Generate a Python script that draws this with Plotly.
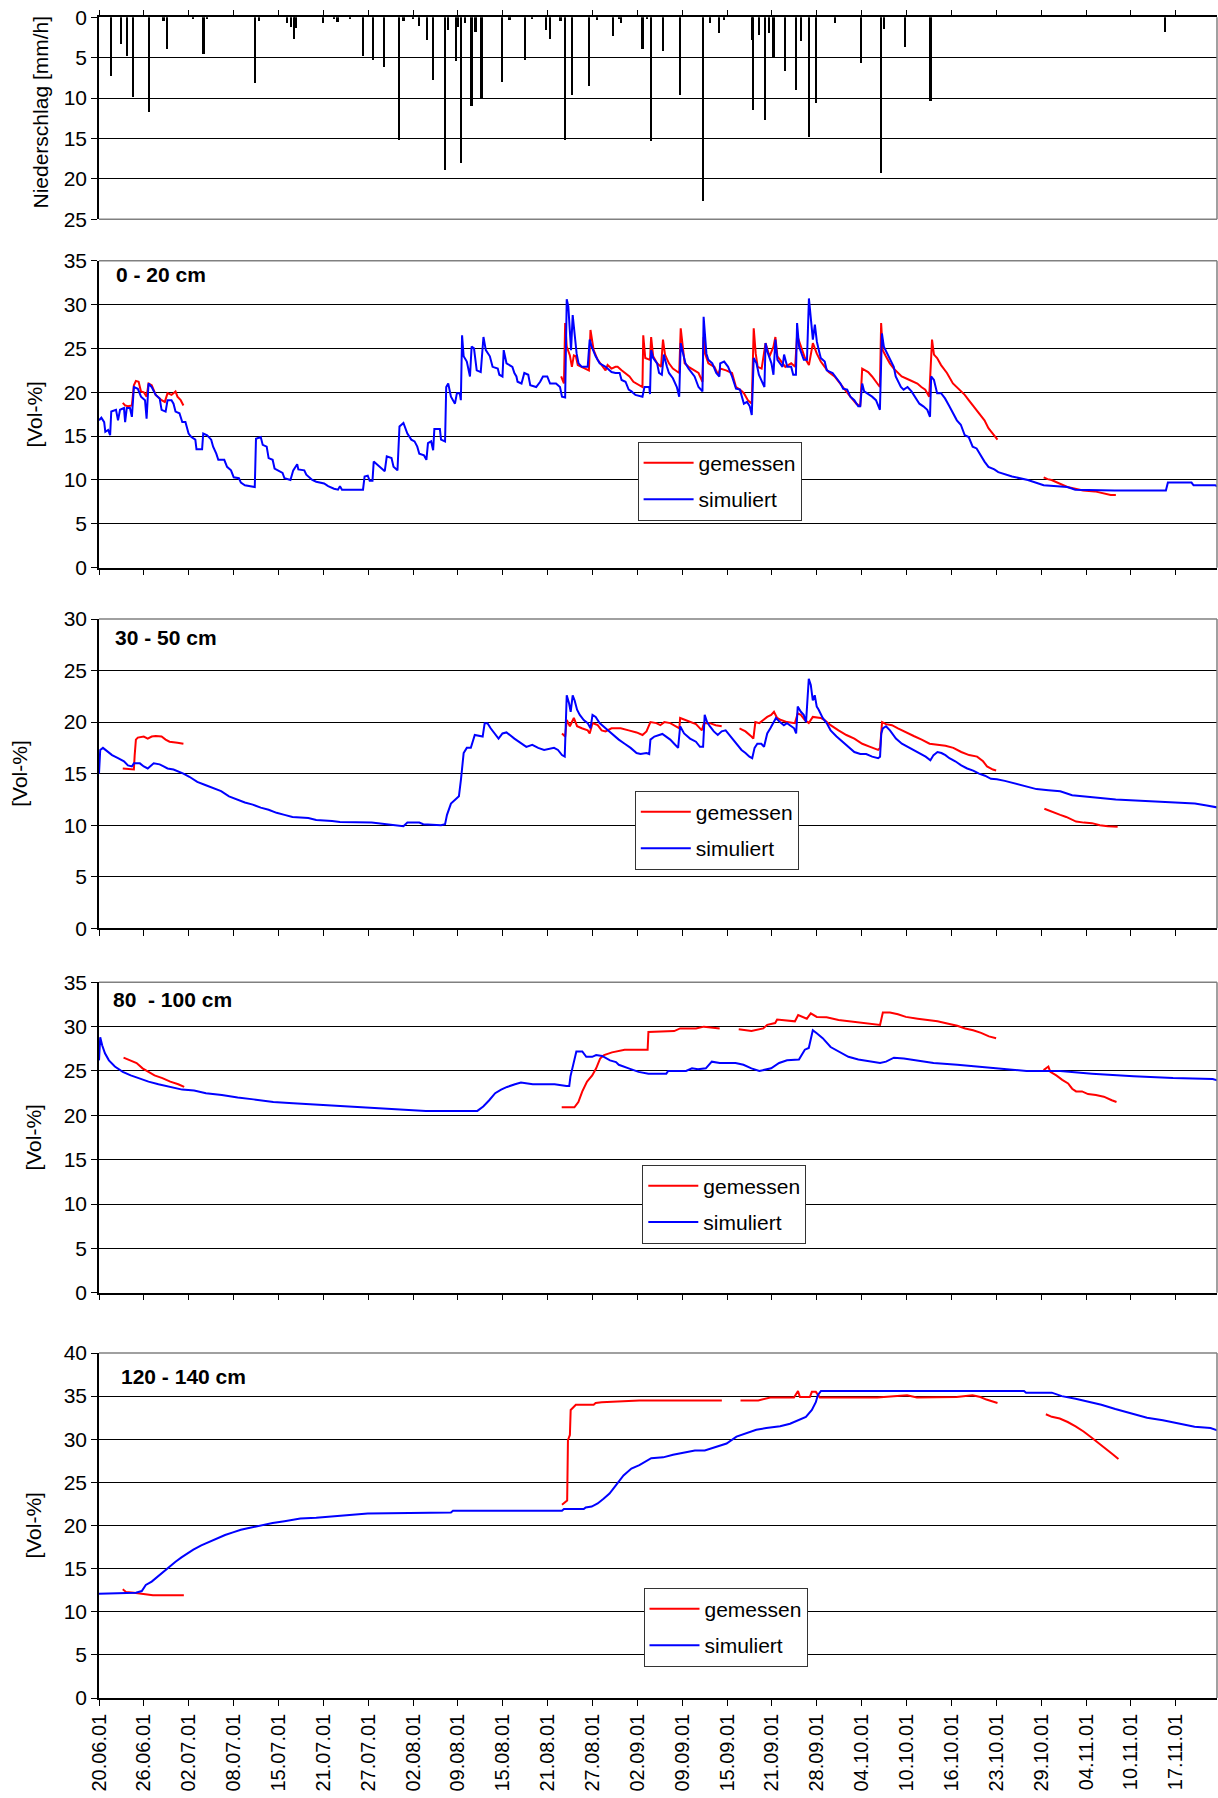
import pandas as pd
import plotly.graph_objects as go

START = pd.Timestamp("2001-06-20")

# ---------------- data (day offset from 20.06.01 00:00, values) ----------------
RAIN_DAY = [1.65, 3.03, 3.86, 4.74, 7.00, 8.98, 9.53, 13.11, 14.55, 15.04, 21.76, 22.32,
            26.17, 26.72, 27.11, 27.38, 31.24, 32.78, 33.23, 34.99, 36.81, 38.18, 39.67,
            41.77, 42.43, 43.80, 44.63, 45.73, 46.56, 48.21, 48.60, 49.70, 50.03, 50.42,
            50.97, 51.90, 52.46, 53.28, 56.09, 57.19, 59.40, 60.33, 62.26, 62.81, 64.30,
            64.91, 65.84, 68.32, 69.43, 71.63, 72.46, 72.69, 75.71, 76.37, 76.92, 78.57,
            80.93, 84.18, 85.06, 86.37, 87.09, 90.94, 91.10, 91.92, 92.75, 93.30, 93.96,
            95.61, 97.09, 97.80, 98.90, 99.84, 102.58, 106.21, 108.96, 109.34, 112.26,
            115.83, 148.52]
RAIN_MMH = [7.3, 3.3, 4.8, 9.9, 11.8, 0.5, 4.0, 0.25, 4.6, 0.3, 8.2, 0.5,
            0.8, 1.2, 2.7, 1.4, 0.7, 0.3, 0.6, 0.3, 4.8, 5.3, 6.2,
            15.2, 0.5, 0.3, 1.1, 2.8, 7.8, 18.9, 1.6, 5.5, 1.2, 18.1,
            0.7, 11.0, 1.8, 10.2, 8.0, 0.4, 5.3, 0.25, 1.6, 2.7, 0.5,
            15.2, 9.7, 8.5, 0.4, 2.3, 0.3, 0.7, 4.0, 0.3, 15.4, 4.25,
            9.7, 22.8, 0.7, 2.0, 0.4, 2.8, 11.5, 2.2, 12.7, 2.0, 5.0,
            6.7, 9.0, 3.0, 14.9, 10.7, 0.8, 5.7, 19.3, 1.5, 3.75,
            10.4, 1.8]

# 0 - 20 cm
SIM_A_DAY = [0.0, 0.33, 0.72, 0.88, 1.27, 1.55, 1.71, 2.37, 2.65, 2.93, 3.48, 3.64, 3.87, 4.31,
             4.58, 4.86, 5.41, 5.85, 6.41, 6.63, 6.90, 7.34, 7.90, 8.45, 8.72, 9.28, 9.55,
             10.10, 10.38, 10.66, 11.21, 11.60, 12.04, 12.48, 12.87, 13.42, 13.58, 14.36,
             14.52, 15.07, 15.63, 15.90, 16.34, 16.62, 17.45, 17.84, 18.39, 18.77, 19.49,
             19.77, 20.32, 21.42, 21.70, 21.87, 22.53, 22.81, 23.36, 23.63, 24.19, 24.46,
             25.57, 25.84, 26.67, 27.06, 27.61, 27.77, 28.60, 28.88, 29.71, 30.26, 31.36,
             31.92, 32.74, 33.30, 33.57, 33.85, 36.78, 37.00, 37.44, 37.71, 38.10, 38.27,
             39.10, 39.81, 40.09, 40.75, 41.03, 41.58, 41.86, 42.41, 42.96, 43.51, 43.96,
             44.34, 44.62, 45.28, 45.61, 45.83, 46.27, 46.55, 46.72, 47.49, 47.65, 48.21,
             48.37, 48.65, 49.03, 49.59, 49.86, 50.25, 50.41, 50.58, 50.80, 51.24, 51.68,
             51.91, 52.24, 52.62, 53.18, 53.56, 53.89, 54.45, 54.83, 55.55, 55.77, 56.21,
             56.38, 56.77, 57.59, 57.87, 58.15, 58.31, 58.86, 59.25, 59.80, 60.08, 60.91,
             61.46, 61.85, 62.45, 62.84, 63.67, 64.22, 64.50, 64.94, 65.16, 65.38, 65.60,
             65.76, 65.99, 66.26, 66.54, 66.81, 67.26, 68.08, 68.36, 68.64, 69.19, 69.74,
             70.57, 71.40, 71.95, 72.53, 72.80, 73.35, 73.79, 74.18, 74.73, 75.71, 75.99,
             76.65, 76.76, 76.92, 77.20, 77.75, 78.02, 78.41, 78.68, 79.12, 79.40, 79.95,
             80.50, 80.83, 81.04, 81.32, 81.70, 82.14, 82.97, 83.52, 84.07, 84.23, 84.45,
             84.62, 84.89, 85.44, 85.99, 86.43, 86.54, 87.09, 87.64, 88.19, 88.74, 89.29,
             89.84, 90.28, 90.66, 90.94, 91.21, 91.60, 91.93, 92.70, 92.86, 93.13, 93.68,
             93.96, 94.23, 94.51, 95.22, 95.44, 95.88, 96.43, 96.71, 97.09, 97.25, 97.53,
             98.19, 98.63, 98.90, 99.18, 99.45, 99.73, 100.00, 100.28, 100.55, 101.10,
             101.38, 102.20, 102.75, 103.30, 103.68, 104.23, 104.67, 105.22, 105.77, 106.05,
             106.32, 106.60, 107.70, 108.24, 108.79, 109.07, 109.34, 110.17, 110.72, 110.99,
             111.71, 112.09, 112.64, 113.19, 114.29, 114.84, 115.39, 115.77, 115.93, 116.32,
             116.76, 117.31, 117.86, 118.41, 118.96, 119.51, 120.06, 120.61, 121.16, 121.71,
             122.26, 122.81, 123.36, 123.91, 124.73, 125.28, 127.20, 129.40, 131.60, 134.90,
             136.00, 141.49, 148.63, 148.91, 152.20, 152.48, 155.50, 156.05]
SIM_A = [16.8, 17.1, 16.6, 15.5, 15.7, 15.1, 17.8, 18.0, 16.8, 18.0, 18.2, 16.6, 18.2, 18.2,
         17.2, 20.6, 20.4, 19.5, 19.1, 17.0, 21.0, 20.6, 19.7, 19.3, 18.0, 17.8, 19.1,
         19.1, 18.7, 17.8, 17.6, 16.6, 16.6, 15.3, 14.9, 14.6, 13.5, 13.5,
         15.3, 15.1, 14.6, 13.8, 13.0, 12.3, 12.3, 11.5, 11.1, 10.3, 10.2,
         9.7, 9.4, 9.2, 9.2, 14.7, 14.9, 14.0, 13.8, 12.5, 12.3, 11.3,
         10.8, 10.2, 10.0, 11.1, 11.8, 11.2, 11.1, 10.6, 10.0, 9.8, 9.6,
         9.3, 9.0, 8.9, 9.3, 8.9, 8.9, 10.4, 10.5, 9.9, 9.9, 12.1,
         11.5, 11.0, 12.7, 12.5, 11.5, 11.1, 16.1, 16.5, 15.3, 14.6, 14.4,
         13.8, 13.0, 12.8, 12.3, 14.2, 14.4, 13.4, 15.8, 15.8, 14.6, 14.4,
         20.6, 21.0, 19.5, 18.7, 19.9, 19.9, 19.1, 26.5, 24.1, 23.5, 21.8,
         25.2, 25.0, 22.5, 22.3, 26.3, 24.8, 24.1, 22.9, 22.7, 22.0, 21.8,
         24.8, 23.3, 22.9, 22.2, 21.8, 21.2, 21.0, 22.2, 22.0, 20.8, 20.6,
         21.2, 21.8, 21.8, 21.0, 21.0, 20.6, 19.5, 19.4, 30.6, 29.8, 26.0,
         24.8, 28.8, 26.3, 24.4, 23.3, 22.9, 22.9, 26.0, 25.2, 24.1, 23.3,
         22.9, 22.3, 22.2, 22.2, 21.4, 21.2, 20.3, 20.1, 19.7, 19.5, 20.6,
         20.6, 19.8, 24.8, 23.9, 23.3, 22.2, 22.0, 24.3, 22.9, 22.2, 21.6,
         20.6, 19.5, 25.6, 24.6, 23.3, 22.7, 21.8, 20.6, 20.1, 28.6, 26.3,
         24.4, 23.7, 23.3, 22.2, 21.8, 23.3, 23.5, 22.9, 21.8, 20.4, 20.3,
         18.7, 18.9, 18.4, 17.4, 23.9, 23.3, 22.0, 20.6, 25.6, 24.6, 23.3,
         22.0, 26.0, 23.7, 22.9, 24.3, 22.9, 22.9, 22.0, 22.0, 27.9, 25.2,
         23.7, 23.7, 30.7, 28.2, 26.0, 27.7, 25.8, 24.8, 23.9, 23.5,
         22.5, 22.2, 21.6, 21.0, 20.4, 20.3, 19.5, 19.1, 18.4, 18.4,
         21.0, 20.1, 19.5, 19.1, 18.0, 26.7, 25.2, 23.7, 22.9, 21.8,
         20.6, 20.3, 20.6, 20.1, 18.7, 18.4, 18.0, 17.2, 21.8, 21.4,
         19.9, 19.9, 19.3, 18.5, 17.6, 16.8, 16.3, 15.1, 14.9, 13.8,
         13.6, 12.8, 12.1, 11.5, 11.2, 10.9, 10.4, 10.0, 9.4, 9.2,
         8.9, 8.8, 8.8, 9.7, 9.7, 9.4, 9.4, 9.2]
MEAS_A_DAY = [3.31, 3.64, 4.03, 4.58, 4.86, 5.14, 5.52, 5.85, 6.24, 6.63, 6.90, 7.34, 7.90,
              8.72, 9.17, 9.55, 10.10, 10.66, 10.93, 11.38, 11.76, None,
              64.38, 64.77, 64.94, 65.16, 65.60, 65.88, 66.15, 66.43, 66.70, 67.81, 68.25,
              68.47, 68.64, 68.91, 69.47, 70.02, 70.57, 70.85, 71.40, 71.95, 72.25, 72.80,
              73.35, 73.90, 74.45, 75.27, 75.71, 75.82, 76.10, 76.76, 76.92, 77.20, 77.75,
              78.30, 78.57, 78.85, 79.40, 79.95, 80.83, 81.04, 81.32, 81.59, 82.14, 82.97,
              83.52, 84.07, 84.23, 84.45, 84.89, 85.72, 86.26, 86.54, 87.36, 88.19, 88.74,
              89.29, 89.84, 90.39, 90.94, 91.21, 91.49, 91.76, 92.31, 92.86, 93.41, 93.96,
              94.23, 94.51, 95.06, 95.61, 96.43, 96.98, 97.25, 97.80, 98.35, 98.90, 99.45,
              100.00, 100.55, 101.10, 101.65, 102.47, 103.02, 103.85, 104.67, 105.50,
              106.05, 106.32, 107.15, 107.70, 108.24, 108.79, 108.96, 109.18, 109.62,
              110.17, 110.72, 111.27, 111.82, 112.92, 114.01, 114.56, 115.11, 115.66,
              116.05, 116.32, 116.76, 117.31, 118.13, 118.96, 119.51, 120.06, 120.61,
              121.16, 121.71, 122.26, 122.81, 123.36, 123.91, 124.46, 125.17, None,
              131.60, 132.15, 132.70, 133.80, 134.90, 136.00, 137.09, 138.74, 139.84,
              140.94, 141.66]
MEAS_A = [18.8, 18.5, 18.4, 18.5, 20.8, 21.3, 21.2, 20.1, 20.0, 19.5, 21.0, 20.8, 19.7,
          19.1, 18.9, 19.9, 19.7, 20.1, 19.5, 19.1, 18.5, None,
          21.8, 21.0, 27.9, 25.2, 24.2, 22.9, 24.2, 24.1, 23.1, 22.7, 22.5,
          27.1, 26.3, 24.8, 23.7, 23.1, 22.5, 23.1, 22.7, 22.9, 22.9, 22.5,
          22.2, 21.8, 21.2, 20.8, 20.6, 26.5, 23.9, 23.7, 26.3, 24.1, 23.3,
          22.9, 26.0, 24.3, 23.3, 22.7, 22.2, 27.3, 24.8, 23.3, 22.9, 22.5,
          22.2, 21.2, 26.3, 24.4, 23.3, 22.9, 22.0, 22.7, 22.5, 22.2, 20.6,
          20.3, 19.9, 19.1, 18.7, 27.3, 24.4, 22.9, 22.7, 25.6, 24.1, 25.2,
          26.3, 24.1, 23.5, 22.9, 23.3, 22.9, 26.5, 25.2, 23.9, 23.1, 25.6,
          24.4, 23.5, 22.9, 22.3, 21.8, 21.2, 20.3, 19.5, 18.7,
          18.4, 22.7, 22.3, 21.8, 21.2, 20.6, 27.9, 24.8, 24.1,
          23.3, 22.7, 22.3, 21.8, 21.4, 21.0, 20.6, 20.3, 19.5,
          26.0, 24.3, 23.9, 23.1, 22.2, 21.0, 20.6, 20.1, 19.7,
          19.1, 18.5, 18.0, 17.4, 16.8, 15.9, 15.3, 14.6, None,
          10.3, 10.1, 10.0, 9.6, 9.2, 9.0, 8.8, 8.7, 8.5,
          8.3, 8.3]

# 30 - 50 cm
SIM_B_DAY = [0.0, 0.17, 0.55, 1.82, 2.65, 3.48, 4.03, 4.58, 4.86, 5.69, 6.24, 6.79, 7.62,
             8.45, 9.00, 9.55, 10.38, 11.21, 11.76, 12.59, 13.69, 14.80, 15.90, 17.01,
             18.11, 19.22, 20.32, 21.42, 22.53, 23.63, 24.74, 25.84, 26.95, 29.16, 30.26,
             32.47, 33.57, 37.99, 40.20, 41.30, 42.41, 42.96, 44.62, 45.17, 47.65, 48.21,
             48.48, 49.03, 50.14, 50.42, 50.80, 51.24, 51.80, 52.35, 53.45, 53.73, 54.12,
             54.56, 55.66, 56.21, 56.77, 57.87, 58.70, 59.53, 60.36, 61.18, 62.01, 63.39,
             63.94, 64.50, 64.88, 65.16, 65.49, 65.71, 65.99, 66.26, 66.60, 66.98, 67.53,
             68.08, 68.47, 68.75, 69.19, 69.74, 70.57, 71.40, 71.95, 72.41, 73.23, 74.06,
             74.89, 75.44, 76.27, 76.65, 76.82, 77.37, 78.48, 79.58, 80.13, 80.68, 80.96,
             81.51, 82.34, 83.16, 83.72, 84.16, 84.38, 84.71, 85.09, 85.65, 86.20, 86.75,
             87.30, 87.85, 88.40, 88.96, 89.51, 90.06, 90.61, 91.00, 91.33, 91.71, 92.27,
             92.65, 93.09, 93.53, 93.92, 94.31, 94.86, 95.41, 95.85, 96.84, 97.12, 97.34,
             97.78, 98.17, 98.50, 98.88, 99.16, 99.44, 99.71, 99.99, 100.26, 100.82,
             101.37, 101.92, 102.75, 103.57, 104.40, 105.23, 106.06, 106.88, 107.71,
             108.54, 108.81, 108.98, 109.20, 109.64, 110.19, 111.02, 111.85, 112.67,
             113.50, 114.33, 115.16, 115.82, 116.26, 116.81, 117.36, 117.92, 118.47,
             119.29, 120.12, 120.95, 121.78, 122.60, 123.43, 124.26, 125.09, 126.19,
             127.29, 128.40, 129.50, 130.60, 132.26, 133.91, 135.57, 137.22, 139.43,
             141.64, 144.39, 147.15, 149.91, 152.67, 154.32, 155.98]
SIM_B = [15.0, 17.3, 17.5, 16.8, 16.5, 16.2, 15.8, 15.7, 16.0, 16.0, 15.7, 15.5, 16.0,
         15.9, 15.7, 15.5, 15.4, 15.2, 15.0, 14.7, 14.2, 13.9, 13.6, 13.3,
         12.8, 12.5, 12.2, 12.0, 11.7, 11.5, 11.2, 11.0, 10.8, 10.7, 10.5,
         10.4, 10.3, 10.25, 10.1, 10.0, 9.9, 10.25, 10.25, 10.1, 10.0, 10.1,
         11.0, 12.1, 12.8, 14.4, 17.0, 17.5, 17.5, 18.75, 18.6, 19.9, 19.9,
         19.4, 18.4, 18.9, 19.0, 18.4, 18.0, 17.6, 17.8, 17.5, 17.3, 17.5,
         17.3, 16.8, 16.65, 22.6, 21.8, 21.0, 22.6, 22.1, 21.2, 20.7, 20.2,
         19.9, 19.4, 20.7, 20.5, 19.9, 19.4, 18.9, 18.6, 18.3, 17.9, 17.5,
         17.0, 16.9, 17.0, 16.9, 18.3, 18.6, 18.85, 18.3, 17.9, 17.5, 19.6,
         18.9, 18.4, 18.1, 17.6, 17.6, 20.7, 20.0, 19.6, 19.1, 18.75, 19.1,
         19.2, 18.75, 18.3, 17.8, 17.3, 17.0, 16.65, 16.5, 17.5, 17.9, 17.9,
         17.6, 18.9, 19.4, 19.9, 20.4, 20.0, 19.7, 19.9, 19.4, 18.9, 21.5,
         21.0, 20.7, 20.0, 24.2, 23.6, 22.1, 22.6, 21.5, 21.2, 20.4,
         19.9, 19.2, 18.6, 18.1, 17.6, 17.1, 16.9, 16.9, 16.65,
         16.5, 16.65, 18.9, 19.4, 19.6, 19.2, 18.4, 17.9, 17.6,
         17.3, 17.0, 16.65, 16.3, 16.8, 17.1, 17.0, 16.8, 16.5,
         16.2, 15.8, 15.5, 15.3, 15.0, 14.8, 14.5, 14.45, 14.3,
         14.1, 13.9, 13.7, 13.5, 13.4, 13.3, 12.9, 12.8, 12.6,
         12.5, 12.4, 12.3, 12.2, 12.1, 11.9, 11.7]
MEAS_B_DAY = [3.31, 4.86, 4.97, 5.14, 5.41, 6.24, 6.79, 7.34, 7.90, 8.72, 9.28, 9.83, 10.93,
              11.76, None,
              64.50, 64.94, 65.16, 65.60, 66.15, 66.60, 67.26, 68.08, 68.36, 68.75, 69.47,
              70.02, 70.57, 71.40, 71.95, 72.68, 73.79, 74.89, 75.72, 76.27, 76.82, 77.65,
              78.20, 78.75, 79.58, 80.41, 80.85, 80.96, 81.62, 82.34, 83.16, 83.99, 84.27,
              85.09, 85.92, 86.75, None,
              89.23, 90.06, 90.89, 91.16, 91.44, 91.99, 92.54, 93.09, 93.64, 94.03, 94.47,
              95.02, 95.85, 96.95, 97.34, 97.78, 98.33, 98.88, 99.44, 100.54, 101.09,
              101.92, 103.02, 104.12, 105.23, 106.33, 107.43, 108.54, 108.81, 109.09,
              109.64, 110.47, 111.30, 112.40, 113.50, 114.61, 115.71, 116.81, 117.92,
              119.02, 120.12, 121.22, 122.33, 123.16, 123.71, 124.53, 124.98, None,
              131.70, 133.08, 133.91, 134.74, 136.12, 137.22, 138.33, 139.43, 140.53,
              141.91]
MEAS_B = [15.5, 15.4, 16.8, 18.3, 18.5, 18.6, 18.4, 18.6, 18.65, 18.6, 18.3, 18.1, 18.0,
          17.9, None,
          18.9, 18.6, 20.2, 19.6, 20.4, 19.6, 19.4, 19.2, 18.9, 19.9, 19.7,
          19.2, 19.1, 19.4, 19.4, 19.4, 19.2, 19.0, 18.75, 19.1, 20.0, 19.9,
          19.7, 20.0, 19.9, 19.6, 19.4, 20.4, 20.2, 20.0, 19.8, 19.2, 19.9,
          19.9, 19.7, 19.6, None,
          19.4, 19.1, 18.6, 18.4, 20.0, 19.9, 20.2, 20.5, 20.7, 21.0, 20.4,
          20.2, 20.0, 19.9, 20.85, 20.7, 20.2, 19.9, 20.5, 20.4, 20.2,
          19.7, 19.2, 18.75, 18.4, 17.9, 17.6, 17.3, 17.5, 20.0,
          19.8, 19.7, 19.4, 19.0, 18.65, 18.3, 17.9, 17.8, 17.7,
          17.5, 17.1, 16.8, 16.65, 16.2, 15.7, 15.4, 15.3, None,
          11.6, 11.2, 11.0, 10.8, 10.35, 10.25, 10.2, 10.0, 9.9,
          9.85]

# 80 - 100 cm
SIM_C_DAY = [0.0, 0.17, 0.44, 0.83, 1.38, 2.21, 3.31, 4.42, 5.52, 6.90, 8.28, 9.93, 11.59,
             13.25, 14.90, 17.11, 19.32, 21.52, 24.28, 27.04, 30.35, 34.22, 39.18, 45.53,
             52.71, 53.53, 54.36, 55.19, 56.02, 56.85, 57.95, 58.78, 60.43, 63.47, 65.12,
             65.51, 65.68, 66.12, 66.50, 67.33, 67.88, 68.71, 69.26, 70.09, 71.19, 72.02,
             72.41, 73.79, 75.17, 76.54, 79.03, 79.30, 81.78, 82.61, 83.44, 84.54, 85.37,
             86.47, 88.68, 89.78, 90.89, 91.99, 93.64, 94.75, 95.85, 97.51, 98.33, 98.88,
             99.44, 99.99, 100.82, 101.92, 103.02, 104.40, 105.78, 107.43, 108.81, 109.64,
             110.74, 112.12, 114.05, 116.26, 119.57, 122.33, 125.64, 129.22, 133.91,
             138.33, 144.12, 149.63, 155.15, 155.98]
SIM_C = [26.2, 28.8, 27.9, 27.0, 26.2, 25.5, 24.9, 24.5, 24.2, 23.8, 23.5, 23.2, 22.9,
         22.8, 22.5, 22.3, 22.0, 21.8, 21.5, 21.35, 21.2, 21.0, 20.8, 20.5,
         20.5, 21.0, 21.7, 22.5, 22.9, 23.2, 23.5, 23.7, 23.5, 23.5, 23.3,
         23.3, 24.4, 25.9, 27.2, 27.2, 26.6, 26.6, 26.8, 26.7, 26.2, 26.0,
         25.7, 25.3, 24.9, 24.7, 24.7, 25.0, 25.0, 25.3, 25.2, 25.3, 26.05,
         25.9, 25.9, 25.7, 25.3, 25.0, 25.3, 25.9, 26.2, 26.3, 27.4, 27.6,
         29.6, 29.25, 28.7, 27.7, 27.2, 26.6, 26.3, 26.05, 25.9, 26.05,
         26.5, 26.4, 26.2, 25.9, 25.7, 25.5, 25.3, 25.0, 25.0,
         24.7, 24.4, 24.2, 24.1, 23.9]
MEAS_C_DAY = [3.42, 4.42, 5.24, 6.07, 6.90, 7.73, 8.83, 9.93, 11.04, 11.87, None,
              64.46, 66.23, 66.78, 67.33, 67.99, 68.71, 69.26, 69.81, 70.36, 71.47, 73.23,
              76.43, 76.54, 80.13, 80.96, 83.16, 84.27, 86.47, None,
              89.12, 90.89, 92.54, 93.09, 94.20, 94.47, 96.95, 97.40, 98.61, 99.16, 99.99,
              101.37, 103.02, 104.68, 106.33, 108.81, 109.20, 110.19, 111.30, 112.40,
              114.05, 115.71, 116.81, 118.47, 119.57, 120.67, 121.78, 122.88, 123.98,
              124.98, None,
              131.59, 132.26, 132.53, 133.36, 134.19, 135.01, 135.57, 136.12, 136.95,
              137.78, 138.88, 139.98, 141.09, 141.75]
MEAS_C = [26.5, 26.2, 25.9, 25.3, 24.9, 24.5, 24.2, 23.8, 23.5, 23.2, None,
          20.9, 20.9, 21.5, 22.7, 23.8, 24.5, 25.3, 26.4, 26.8, 27.1, 27.4,
          27.4, 29.4, 29.5, 29.8, 29.8, 30.0, 29.8, None,
          29.7, 29.5, 29.8, 30.2, 30.4, 30.8, 30.6, 31.3, 30.9, 31.5, 31.1,
          31.05, 30.75, 30.6, 30.4, 30.2, 31.6, 31.6, 31.4, 31.1,
          30.9, 30.75, 30.6, 30.3, 30.1, 29.8, 29.6, 29.3, 28.9,
          28.7, None,
          25.1, 25.5, 24.9, 24.5, 24.0, 23.6, 23.0, 22.7, 22.7,
          22.4, 22.3, 22.1, 21.7, 21.5]

# 120 - 140 cm
SIM_D_DAY = [0.0, 5.14, 5.96, 6.52, 7.34, 8.17, 9.00, 9.83, 10.66, 11.49, 12.31, 13.14,
             14.25, 15.35, 16.46, 17.56, 18.66, 19.77, 20.87, 22.53, 24.19, 25.84, 28.05,
             30.26, 33.02, 37.44, 49.03, 49.31, 64.50, 64.77, 67.53, 67.81, 68.64, 69.47,
             70.29, 71.12, 71.95, 73.07, 74.17, 75.28, 76.93, 78.59, 79.97, 81.35, 83.01,
             84.39, 85.77, 87.43, 88.81, 90.19, 91.57, 92.96, 94.89, 96.27, 97.38, 98.48,
             99.31, 99.86, 100.14, 100.58, 128.87, 129.15, 132.74, 134.12, 136.05, 137.71,
             139.64, 141.58, 143.79, 146.00, 148.21, 150.42, 152.63, 154.84, 156.22]
SIM_D = [12.1, 12.2, 12.4, 13.1, 13.5, 14.1, 14.6, 15.2, 15.8, 16.3, 16.75, 17.2,
         17.7, 18.1, 18.5, 18.9, 19.2, 19.5, 19.7, 20.0, 20.3, 20.5, 20.8,
         20.9, 21.1, 21.4, 21.5, 21.7, 21.7, 21.9, 21.9, 22.1, 22.2, 22.55,
         23.1, 23.7, 24.6, 25.8, 26.6, 27.0, 27.8, 27.9, 28.2, 28.4, 28.7,
         28.7, 29.1, 29.5, 30.3, 30.7, 31.1, 31.3, 31.5, 31.8, 32.2, 32.6,
         33.4, 34.3, 35.1, 35.6, 35.6, 35.4, 35.4, 35.0, 34.7, 34.35,
         34.0, 33.5, 33.0, 32.5, 32.2, 31.8, 31.45, 31.3, 30.9]
MEAS_D_DAY = [3.31, 3.75, 4.86, 5.96, 7.34, 7.51, 11.82, None,
              64.50, 64.88, 65.22, 65.33, 65.60, 65.71, 66.15, 66.43, 68.91, 69.19, 70.02,
              72.67, 75.28, 80.80, 86.33, 86.77, None,
              89.37, 91.85, 93.51, 96.82, 97.38, 97.65, 99.03, 99.31, 99.86, 100.42,
              108.43, 111.19, 112.57, 113.95, 119.48, 121.69, 122.79, 123.62, 124.45,
              125.17, None,
              131.91, 132.74, 133.84, 134.95, 136.05, 137.16, 138.26, 139.37, 140.47,
              141.30, 142.02]
MEAS_D = [12.6, 12.3, 12.2, 12.1, 12.0, 11.9, 11.9, None,
          22.4, 22.7, 22.9, 29.9, 30.5, 33.4, 33.7, 34.0, 34.0, 34.2, 34.3,
          34.4, 34.5, 34.5, 34.5, 34.5, None,
          34.5, 34.5, 34.85, 34.85, 35.6, 34.9, 34.9, 35.5, 35.5, 34.85,
          34.85, 35.0, 35.1, 34.85, 34.9, 35.1, 34.9, 34.6, 34.35,
          34.2, None,
          32.9, 32.6, 32.4, 32.0, 31.5, 30.9, 30.2, 29.5, 28.7,
          28.2, 27.7]

TICK_LABELS = ["20.06.01", "26.06.01", "02.07.01", "08.07.01", "15.07.01", "21.07.01",
               "27.07.01", "02.08.01", "09.08.01", "15.08.01", "21.08.01", "27.08.01",
               "02.09.01", "09.09.01", "15.09.01", "21.09.01", "28.09.01", "04.10.01",
               "10.10.01", "16.10.01", "23.10.01", "29.10.01", "04.11.01", "10.11.01",
               "17.11.01"]
TICK_STEP_DAYS = 6.25
PANEL_LABELS = ["0 - 20 cm", "30 - 50 cm", "80\u00a0 - 100 cm", "120 - 140 cm"]
Y_MAX = [35, 30, 35, 40]
SERIES_NAMES = ["gemessen", "simuliert"]
RAIN_TITLE = "Niederschlag [mm/h]"
VOL_TITLE = "[Vol-%]"

# ---------------- layout geometry ----------------
W, H = 1218, 1798
ML, MR, MT, MB = 99, 1, 17, 100
PW, PH = W - ML - MR, H - MT - MB
X_END_DAY = 155.75
FONT = "Liberation Sans, Arial, sans-serif"


def px_x(px):
    return (px - ML) / PW


def px_y(py):
    return (H - MB - py) / PH


PANEL_PX = [(17.3, 219.3), (260.7, 567.7), (619.0, 928.3), (982.3, 1292.7), (1353.0, 1698.0)]
TITLE_PX = [(39.5, 112), (33.6, 414), (19.8, 773), (32.6, 1137), (32.6, 1525)]
LABEL_PX = [(113.9, 275), (112.7, 637.7), (110.7, 999.3), (118.6, 1376.7)]
LEGEND_PX = [(637.6, 441.7), (634.8, 790.7), (642.3, 1164.5), (643.5, 1587.7)]


def to_date(d):
    return (START + pd.Timedelta(days=d)).round("s")


def to_dates(days):
    return [to_date(d) if d is not None else None for d in days]


tick_vals = [to_date(i * TICK_STEP_DAYS) for i in range(len(TICK_LABELS))]

fig = go.Figure()

fig.add_trace(go.Bar(
    x=to_dates(RAIN_DAY), y=RAIN_MMH, width=0.3 * 86400000,
    marker=dict(color="black", line=dict(width=0)),
    xaxis="x", yaxis="y", showlegend=False))

panels = [
    (SIM_A_DAY, SIM_A, MEAS_A_DAY, MEAS_A),
    (SIM_B_DAY, SIM_B, MEAS_B_DAY, MEAS_B),
    (SIM_C_DAY, SIM_C, MEAS_C_DAY, MEAS_C),
    (SIM_D_DAY, SIM_D, MEAS_D_DAY, MEAS_D),
]

for i, (sd, sv, md, mv) in enumerate(panels):
    n = i + 2
    leg = "legend" if i == 0 else f"legend{i + 1}"
    fig.add_trace(go.Scatter(
        x=to_dates(md), y=mv, mode="lines", name=SERIES_NAMES[0],
        line=dict(color="#ff0000", width=2), connectgaps=False,
        xaxis=f"x{n}", yaxis=f"y{n}", legend=leg, legendgroup=f"m{n}"))
    fig.add_trace(go.Scatter(
        x=to_dates(sd), y=sv, mode="lines", name=SERIES_NAMES[1],
        line=dict(color="#0000ff", width=2),
        xaxis=f"x{n}", yaxis=f"y{n}", legend=leg, legendgroup=f"s{n}"))

x_range = [START, START + pd.Timedelta(days=X_END_DAY)]
tickfont = dict(family=FONT, size=21, color="black")

layout = dict(
    width=W, height=H, margin=dict(l=ML, r=MR, t=MT, b=MB, autoexpand=False),
    paper_bgcolor="white", plot_bgcolor="white",
    font=dict(family=FONT, size=21, color="black"),
    bargap=0, showlegend=True,
)

for k in range(5):
    n = "" if k == 0 else str(k + 1)
    top, bot = PANEL_PX[k]
    dom = [max(0.0, px_y(bot)), min(1.0, px_y(top))]
    xa = dict(
        type="date", range=x_range, domain=[0, 1], anchor=f"y{n}", automargin=False,
        tickmode="array", tickvals=tick_vals, ticktext=TICK_LABELS,
        ticks="outside", ticklen=6, tickcolor="black", tickwidth=1,
        showline=True, linecolor="black", linewidth=1.5, showgrid=False, zeroline=False,
        showticklabels=(k == 4), tickangle=-90,
        tickfont=dict(family=FONT, size=20, color="black"),
    )
    if k > 0:
        xa["matches"] = "x"
    if k == 0:
        xa["side"] = "top"
    ya = dict(
        domain=dom, anchor=f"x{n}", dtick=5, tick0=0, automargin=False,
        ticks="outside", ticklen=6, tickcolor="black", tickwidth=1,
        showline=True, linecolor="black", linewidth=1.5,
        showgrid=True, gridcolor="black", gridwidth=1, zeroline=False,
        tickfont=tickfont,
    )
    if k == 0:
        ya["range"] = [25, 0]
    else:
        ya["range"] = [0, Y_MAX[k - 1]]
    layout[f"xaxis{n}"] = xa
    layout[f"yaxis{n}"] = ya

for i in range(4):
    key = "legend" if i == 0 else f"legend{i + 1}"
    lx, ly = LEGEND_PX[i]
    layout[key] = dict(
        x=px_x(lx), y=px_y(ly), xanchor="left", yanchor="top",
        bgcolor="white", bordercolor="#333333", borderwidth=1,
        font=dict(family=FONT, size=21, color="black"),
        tracegroupgap=6, itemwidth=50,
    )

fig.update_layout(**layout)

# gray frame on the free sides of each panel
for k in range(5):
    n = "" if k == 0 else str(k + 1)
    yy = 0 if k == 0 else 1
    fig.add_shape(type="line", xref=f"x{n} domain", yref=f"y{n} domain",
                  x0=0, x1=1, y0=yy, y1=yy, line=dict(color="#808080", width=1.5),
                  layer="above")
    fig.add_shape(type="line", xref=f"x{n} domain", yref=f"y{n} domain",
                  x0=1, x1=1, y0=0, y1=1, line=dict(color="#808080", width=1.5),
                  layer="above")

titles = [RAIN_TITLE] + [VOL_TITLE] * 4
for k in range(5):
    tx, ty = TITLE_PX[k]
    fig.add_annotation(text=titles[k], xref="paper", yref="paper",
                       x=px_x(tx), y=px_y(ty), xanchor="center", yanchor="middle",
                       textangle=-90, showarrow=False,
                       font=dict(family=FONT, size=21, color="black"))

for i in range(4):
    lx, ly = LABEL_PX[i]
    fig.add_annotation(text=f"<b>{PANEL_LABELS[i]}</b>", xref="paper", yref="paper",
                       x=px_x(lx), y=px_y(ly), xanchor="left", yanchor="middle",
                       showarrow=False, font=dict(family=FONT, size=21, color="black"))

fig.write_html("out.html",
               config={"displayModeBar": False},
               post_script="document.body.style.margin='0';document.body.style.padding='0';")
